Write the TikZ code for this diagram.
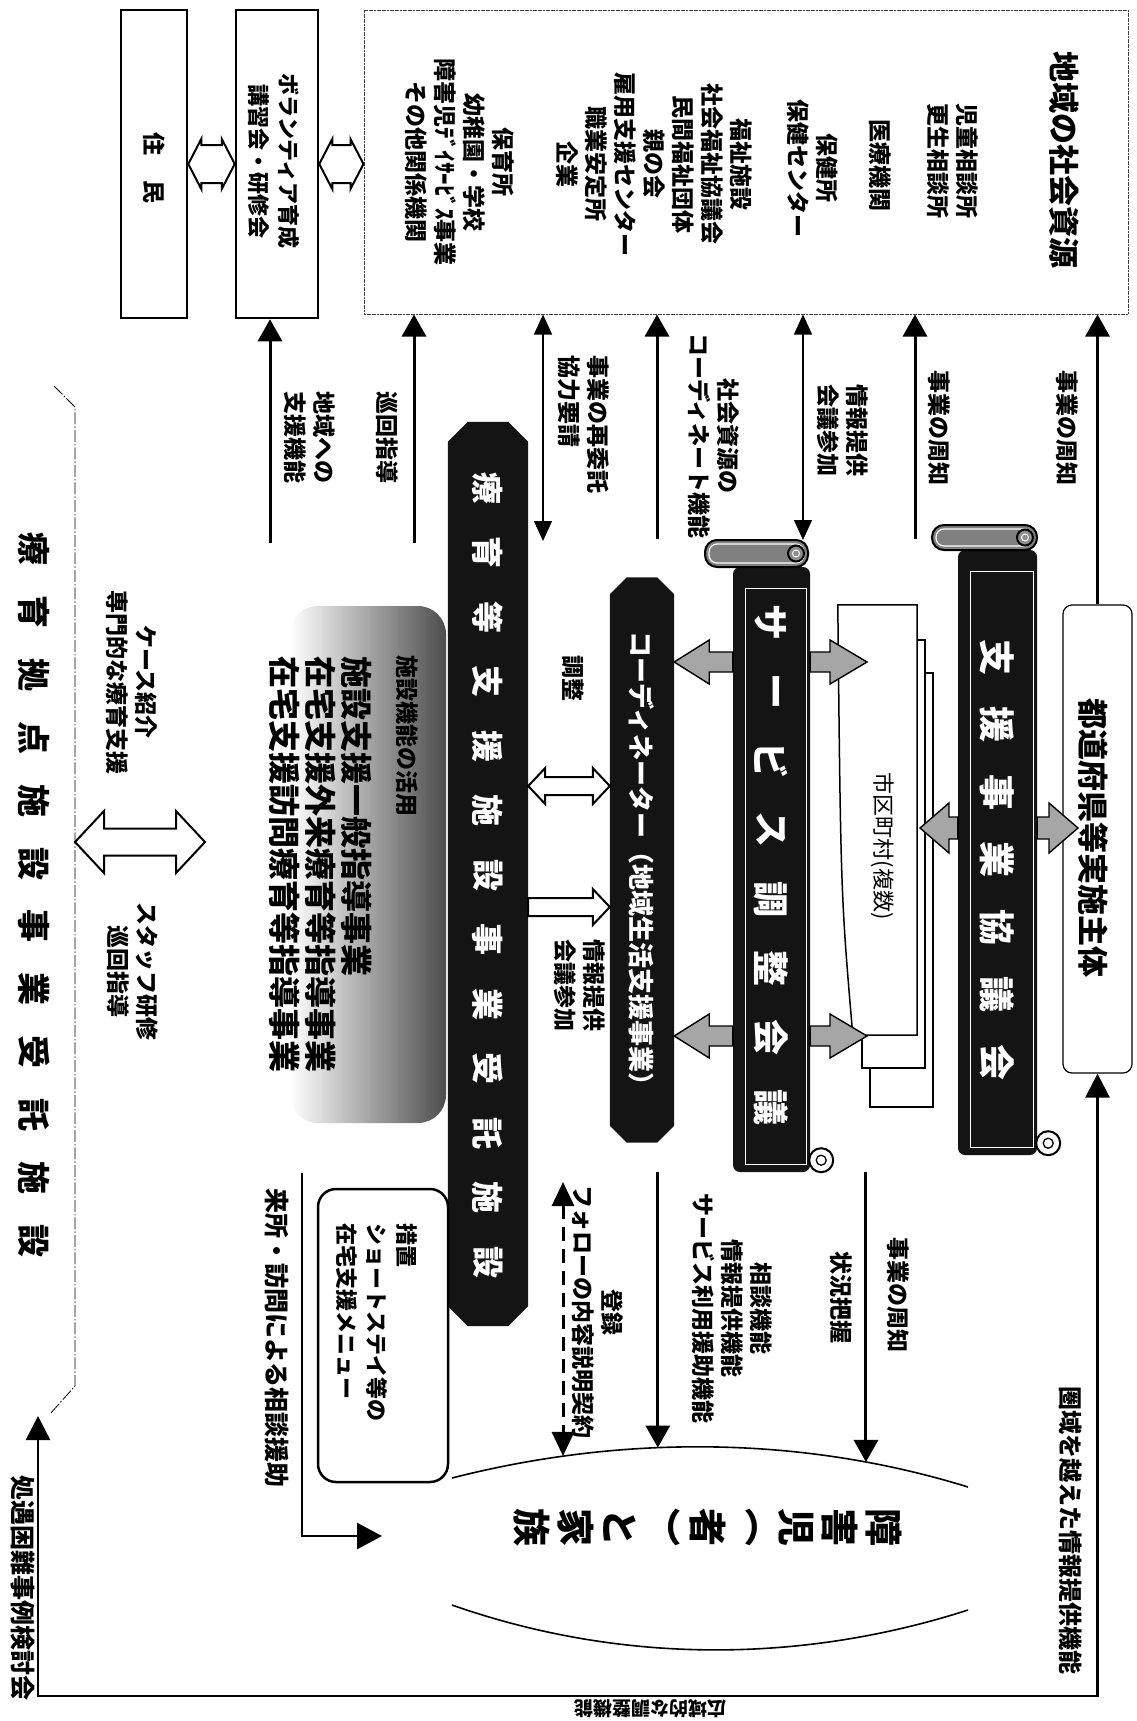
\documentclass[tikz,border=0pt]{standalone}
\usepackage{fontspec}
\setmainfont{Noto Sans CJK JP}
\usetikzlibrary{arrows.meta,calc}

% hollow arrows: [style]{left end}{right end}{shaft half}{head half}{head length}
\newcommand\hollowboth[6][hollow]{%
  \draw[#1] let \p1=(#2), \p2=(#3) in
    (\x1,\y1) -- (\x1+#6pt,\y1+#5pt) -- (\x1+#6pt,\y1+#4pt) -- (\x2-#6pt,\y1+#4pt) -- (\x2-#6pt,\y1+#5pt)
    -- (\x2,\y1) -- (\x2-#6pt,\y1-#5pt) -- (\x2-#6pt,\y1-#4pt) -- (\x1+#6pt,\y1-#4pt) -- (\x1+#6pt,\y1-#5pt) -- cycle;}
\newcommand\hollowright[6][hollow]{%
  \draw[#1] let \p1=(#2), \p2=(#3) in
    (\x1,\y1+#4pt) -- (\x2-#6pt,\y1+#4pt) -- (\x2-#6pt,\y1+#5pt) -- (\x2,\y1)
    -- (\x2-#6pt,\y1-#5pt) -- (\x2-#6pt,\y1-#4pt) -- (\x1,\y1-#4pt) -- cycle;}
\newcommand\hollowleft[6][hollow]{%
  \draw[#1] let \p1=(#2), \p2=(#3) in
    (\x2,\y1+#4pt) -- (\x1+#6pt,\y1+#4pt) -- (\x1+#6pt,\y1+#5pt) -- (\x1,\y1)
    -- (\x1+#6pt,\y1-#5pt) -- (\x1+#6pt,\y1-#4pt) -- (\x2,\y1-#4pt) -- cycle;}
% black bar with cut corners
\newcommand\chamferbar[2]{%
  \fill[barfill] ([yshift=-#2]#1.north west) -- ([xshift=#2]#1.north west) -- ([xshift=-#2]#1.north east)
    -- ([yshift=-#2]#1.north east) -- ([yshift=#2]#1.south east) -- ([xshift=-#2]#1.south east)
    -- ([xshift=#2]#1.south west) -- ([yshift=#2]#1.south west) -- cycle;}
% roll and curl of a scroll
\newcommand\scrollparts[2]{%
  \draw[white, line width=1.2pt, rounded corners=8pt] ([shift={(5pt,-5pt)}]#2.north west) rectangle ([shift={(-5pt,5pt)}]#2.south east);
  \draw[black, line width=2pt, fill=black!45] ([xshift=-13pt]#2.east) circle[radius=8pt];
  \draw[white, line width=1pt] ([xshift=-13pt]#2.east) circle[radius=3.5pt];
  \draw[white, line width=1.2pt] ([shift={(13pt,-22pt)}]#1.north west) rectangle ([shift={(-4pt,8pt)}]#1.south east);
  \draw[line width=2pt, fill=white] ([shift={(11pt,12pt)}]#1.south east) circle[radius=12pt];
  \draw[line width=1.3pt] ([shift={(11pt,12pt)}]#1.south east) circle[radius=5pt];}

\tikzset{
  hollow/.style={draw, line width=2pt, fill=white},
  greyarrow/.style={draw, line width=1.4pt, fill=black!35},
  box/.style={draw, line width=2.5pt, inner sep=0pt},
  anchorbox/.style={inner sep=0pt},
  barfill/.style={fill=black!92},
  vlab/.style={rotate=-90, align=center, inner sep=0pt, font=\bfseries\fontsize{23}{29}\selectfont},
  vtop/.style={vlab, align=left},
  barchar/.style={rotate=-90, inner sep=0pt, text=white, font=\bfseries\fontsize{32}{32}\selectfont},
  titlechar/.style={rotate=-90, inner sep=0pt, font=\bfseries\fontsize{33}{33}\selectfont},
  arr/.style={line width=3pt, -{Triangle[width=24pt,length=22pt]}},
  dblarr/.style={line width=1.3pt, {Triangle[width=18pt,length=20pt]}-{Triangle[width=18pt,length=20pt]}},
  dasharr/.style={line width=3pt, dash pattern=on 14pt off 8pt, {Triangle[width=22pt,length=24pt]}-{Triangle[width=22pt,length=24pt]}},
  scrollbody/.style={fill=black!92, rounded corners=7pt, inner sep=0pt},
  scrollroll/.style={fill=black!50, draw=black, line width=2pt, rounded corners=12pt, inner sep=0pt},
  sheet/.style={draw, line width=1.5pt, fill=white, inner sep=0pt},
}

\begin{document}
\begin{tikzpicture}[x=1pt,y=-1pt]
\useasboundingbox (0,0) rectangle (1136,1721);
\fill[white] (0,0) rectangle (1136,1721);

% top row: residents, volunteers, local resources
\node[box, minimum width=66pt, minimum height=308pt] (jumin) at (154,164) {};
\node[vlab] (jumin-t) at (154,168) {住\hspace{25pt}民};
\node[box, minimum width=82pt, minimum height=308pt] (vol) at (277,164) {};
\node[vlab, font=\bfseries\fontsize{22}{30}\selectfont] (vol-t) at (274,161) {ボランティア育成\\講習会・研修会};
\node[draw=black!75, line width=1pt, dash pattern=on 2pt off 0.6pt, minimum width=764pt, minimum height=304pt] (shigen) at (746,162) {};
\node[vlab, font=\bfseries\fontsize{31}{36}\selectfont] (shigen-t) at (1064,160) {地域の社会資源};
\node[vlab] (jido) at (953,161) {児童相談所\\更生相談所};
\node[vlab] (iryo) at (880,165) {医療機関};
\node[vlab] (hoken) at (813,168) {保健所\\保健センター};
\node[vlab] (fukushi) at (654,164) {福祉施設\\社会福祉協議会\\民間福祉団体\\親の会\\雇用支援センター\\職業安定所\\企業};
\node[vlab] (hoiku) at (460,162) {保育所\\幼稚園・学校\\障害児ﾃﾞｲｻｰﾋﾞｽ事業\\その他関係機関};
\hollowboth{jumin.east}{vol.west}{19}{25}{13}
\hollowboth{vol.east}{shigen.west |- vol.east}{19}{25}{13}

% arrows up to the resources
\coordinate (t1) at (270,543);
\draw[arr] (t1) -- (t1 |- vol.south);
\node[vlab] (t1-lab) at (310,437) {地域への\\支援機能};
\coordinate (t2) at (414,543);
\draw[arr] (t2) -- (t2 |- shigen.south);
\node[vlab] (t2-lab) at (387,437) {巡回指導};
\coordinate (t3) at (543,541);
\draw[dblarr] (t3) -- (t3 |- shigen.south);
\node[vtop] (t3-lab) at (584,424) {事業の再委託\\協力要請};
\coordinate (t4) at (657,539);
\draw[arr] (t4) -- (t4 |- shigen.south);
\node[vlab] (t4-lab) at (714,436) {社会資源の\\コーディネート機能};
\coordinate (t5) at (803,540);
\draw[dblarr] (t5) -- (t5 |- shigen.south);
\node[vlab] (t5-lab) at (843,430) {情報提供\\会議参加};
\coordinate (t6) at (915,539);
\draw[arr] (t6) -- (t6 |- shigen.south);
\node[vlab] (t6-lab) at (939,428) {事業の周知};
\node[vlab] (t7-lab) at (1067,428) {事業の周知};

% facility block
\shade[left color=white, middle color=black!20, right color=black!70, rounded corners=28pt] (290,606) rectangle (446,1123);
\node[vlab, font=\bfseries\fontsize{23}{26}\selectfont] (katsuyo) at (407,736) {施設機能の活用};
\node[vtop, font=\bfseries\fontsize{32}{36}\selectfont] (shisetsu) at (321,864) {施設支援一般指導事業\\在宅支援外来療育等指導事業\\在宅支援訪問療育等指導事業};
\node[anchorbox, minimum width=80pt, minimum height=904pt] (ryo) at (488,874) {};
\chamferbar{ryo}{20pt}
\foreach \c [count=\i from 0] in {療,育,等,支,援,施,設,事,業,受,託,施,設}
  \node[barchar] (ryo-\i) at (488,488+64.5*\i) {\c};

% coordinator
\node[anchorbox, minimum width=64pt, minimum height=565pt] (coord) at (642,860) {};
\chamferbar{coord}{17pt}
\node[vlab, text=white, font=\bfseries\fontsize{26}{30}\selectfont] (coord-t) at (642,865) {コーディネーター（地域生活支援事業）};
\coordinate (yd) at (0,786);
\coordinate (ye) at (0,907);
\hollowboth{ryo.east |- yd}{coord.west |- yd}{9}{18}{17}
\hollowright{ryo.east |- ye}{coord.west |- ye}{9}{18}{17}
\node[vlab] (chosei) at (573,678) {調整};
\node[vlab] (joho2) at (580,985) {情報提供\\会議参加};

% municipalities
\node[sheet, minimum width=63pt, minimum height=434pt] (sheet3) at (901.5,890) {};
\node[sheet, minimum width=63pt, minimum height=428pt] (sheet2) at (893.5,854) {};
\node[anchorbox, minimum width=79pt, minimum height=430pt] (sheet1) at (877.5,820) {};
\draw[sheet] (sheet1.north west) -- (sheet1.north east) -- (sheet1.south east) -- ([xshift=15pt]sheet1.south west)
  .. controls ([shift={(3pt,140pt)}]sheet1.south west) .. (sheet1.north west) -- cycle;
\node[vlab, font=\fontsize{22}{26}\selectfont] (shiku) at (883,846) {市区町村(複数)};

% prefecture
\node[draw, line width=1.2pt, rounded corners=9pt, minimum width=69pt, minimum height=468pt] (todo) at (1097.5,839) {};
\node[vlab, font=\bfseries\fontsize{31}{36}\selectfont] (todo-t) at (1093,838) {都道府県等実施主体};
\draw[arr] (todo.north) -- (todo.north |- shigen.south);

% service meeting scroll
\node[scrollbody, minimum width=77pt, minimum height=605pt] (svbody) at (771.5,869.5) {};
\node[scrollroll, minimum width=103pt, minimum height=27pt] (svroll) at (756.5,553.5) {};
\scrollparts{svbody}{svroll}
\foreach \c [count=\i from 0] in {サ,ー,ビ,ス,調,整,会,議}
  \node[barchar, font=\bfseries\fontsize{36}{36}\selectfont] (sv-\i) at (771,622+69.3*\i) {\c};

% support council scroll
\node[scrollbody, minimum width=79pt, minimum height=605pt] (shbody) at (997.5,852.5) {};
\node[scrollroll, minimum width=105pt, minimum height=25pt] (shroll) at (984.5,537.5) {};
\scrollparts{shbody}{shroll}
\foreach \c [count=\i from 0] in {支,援,事,業,協,議,会}
  \node[barchar, font=\bfseries\fontsize{36}{36}\selectfont] (sh-\i) at (997,657+67.5*\i) {\c};

% grey arrows
\coordinate (ya) at (0,662);
\coordinate (yb) at (0,1036);
\coordinate (yc) at (0,828);
\hollowleft[greyarrow]{coord.east |- ya}{svbody.west |- ya}{10}{22}{35}
\hollowright[greyarrow]{svbody.east |- ya}{867,662}{10}{22}{37}
\hollowleft[greyarrow]{coord.east |- yb}{svbody.west |- yb}{10}{22}{35}
\hollowright[greyarrow]{svbody.east |- yb}{867,1036}{10}{22}{37}
\hollowleft[greyarrow]{920,828}{shbody.west |- yc}{11}{25}{29}
\hollowright[greyarrow]{shbody.east |- yc}{1078,828}{11}{25}{29}

% left column
\foreach \c [count=\i from 0] in {療,育,拠,点,施,設,事,業,受,託,施,設}
  \node[titlechar] (kyoten-\i) at (34,549+62.9*\i) {\c};
\draw[line width=0.8pt, dash pattern=on 12pt off 2pt on 1.5pt off 2pt] (54,386) -- (75,407) -- (75,1386) -- (50,1414);
\hollowboth{75,842}{205,842}{13.5}{31}{29}
\node[vlab] (case) at (132,682) {ケース紹介\\専門的な療育支援};
\node[vlab] (staff) at (133,971) {スタッフ研修\\巡回指導};

% short stay menu
\node[draw, line width=2.5pt, rounded corners=18pt, minimum width=130pt, minimum height=293pt] (sochi) at (383,1335.5) {};
\node[vtop, font=\bfseries\fontsize{22}{30}\selectfont] (sochi-t) at (377,1322) {措置\\ショートステイ等の\\在宅支援メニュー};
\coordinate (raisho) at (302,1173);
\coordinate (raisho-end) at (382,1536);
\draw[line width=2.5pt, -{Triangle[width=26pt,length=25pt]}] (raisho) |- (raisho-end);
\node[vlab, font=\bfseries\fontsize{25}{29}\selectfont] (raisho-lab) at (277,1338) {来所・訪問による相談援助};

% children and families
\draw[line width=1.6pt] (452,1478) .. controls (620,1435) and (800,1435) .. (968,1487)
  coordinate[pos=0.22] (lensA) coordinate[pos=0.4] (lensB) coordinate[pos=0.8] (lensC);
\draw[line width=1.6pt] (452,1605) .. controls (620,1664) and (800,1664) .. (968,1610);
\foreach \c [count=\i from 0] in {障,害,児,︵,者,︶,と,家,族}
  \node[rotate=-90, inner sep=0pt, font=\bfseries\fontsize{38}{38}\selectfont] (family-\i) at (884-44*\i,1527) {\c};
\draw[arr] (lensC |- svbody.south) -- (lensC);
\node[vlab] (b1-lab) at (898,1295) {事業の周知};
\node[vlab] (b1-lab2) at (841,1297) {状況把握};
\draw[arr] (lensB |- svbody.south) -- (lensB);
\node[vlab] (b2-lab) at (732,1308) {相談機能\\情報提供機能\\サービス利用援助機能};
\coordinate (reg) at (563,1182);
\draw[dasharr] (reg) -- (reg |- lensA);
\node[vlab] (b3-lab) at (598,1312) {登録\\フォローの内容説明契約};

% wide-area loop
\node[vlab, font=\bfseries\fontsize{25}{29}\selectfont] (shogu) at (23,1588) {処遇困難事例検討会};
\coordinate (shogu-tip) at (38,1416);
\coordinate (loopy) at (0,1696);
\draw[line width=2.5pt, {Triangle[width=24pt,length=24pt]}-{Triangle[width=24pt,length=24pt]}]
  (shogu-tip) -- (shogu-tip |- loopy) -- (todo.south |- loopy) -- (todo.south);
\node[vlab, font=\bfseries\fontsize{24}{29}\selectfont] (kenniki) at (1071,1530) {圏域を越えた情報提供機能};
\node[rotate=180, inner sep=0pt, font=\bfseries\fontsize{19}{22}\selectfont] (koiki) at (650,1709) {広域的な調整機能};
\end{tikzpicture}
\end{document}
